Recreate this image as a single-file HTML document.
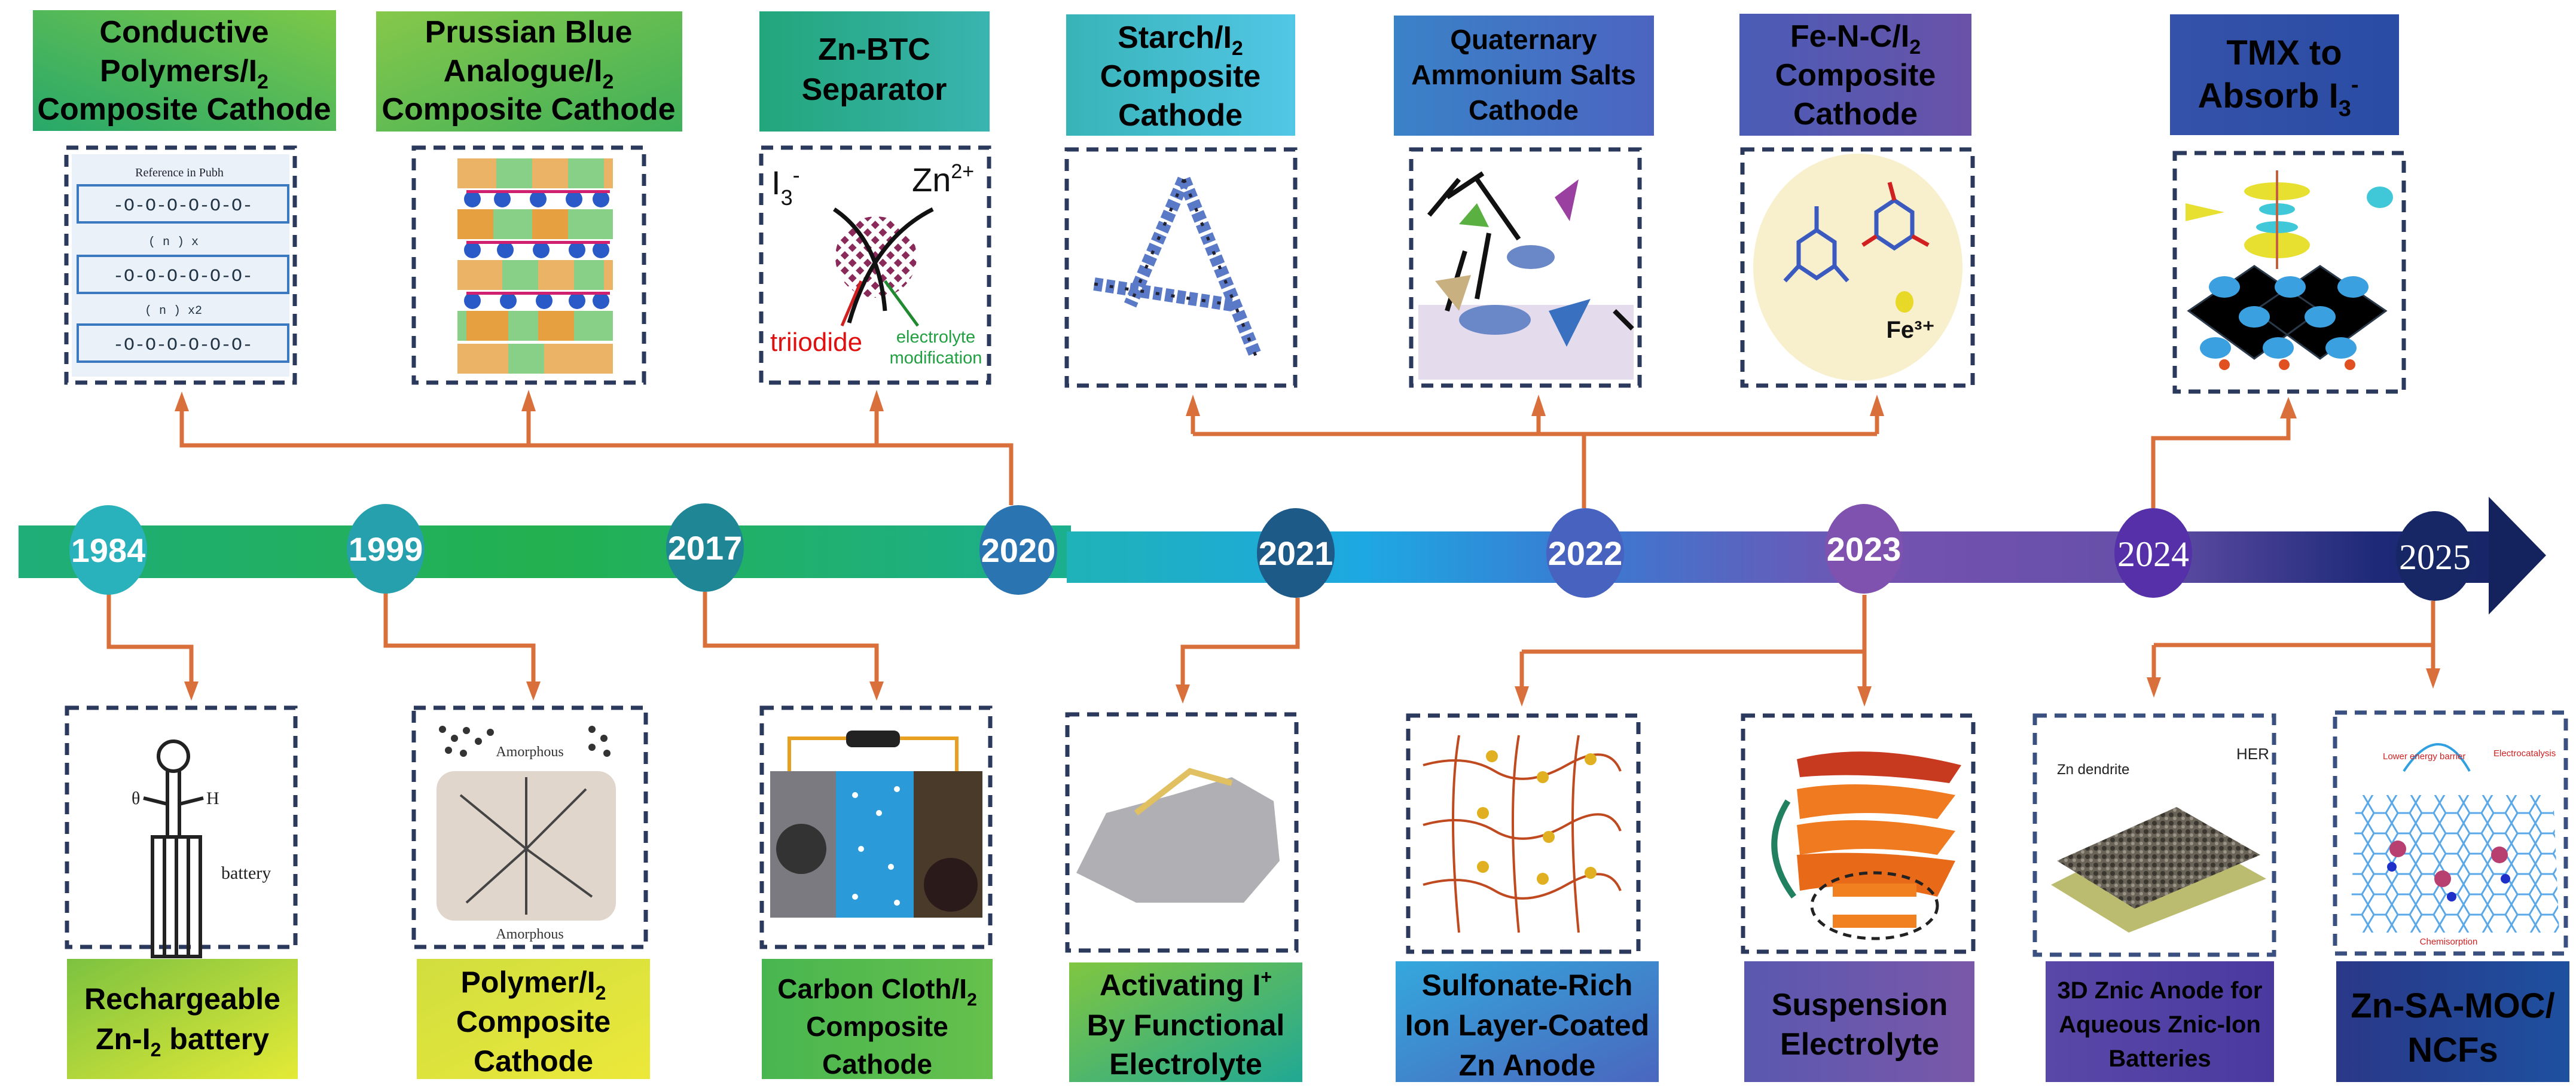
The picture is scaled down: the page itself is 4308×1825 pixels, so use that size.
<!DOCTYPE html>
<html><head><meta charset="utf-8"><style>
html,body{margin:0;padding:0;background:#fff}
svg{display:block}
.t{font-family:"Liberation Sans Narrow","Liberation Sans",sans-serif;font-weight:bold;fill:#000;text-anchor:middle}
.y{font-family:"Liberation Sans Narrow","Liberation Sans",sans-serif;font-weight:bold;fill:#fff;text-anchor:middle;font-size:56px}
.ys{font-family:"Liberation Serif",serif;fill:#fff;text-anchor:middle;font-size:60px}
.c{stroke:#d9703c;stroke-width:7;fill:none}
.a{fill:#d9703c}
.d{fill:#fff;stroke:#2b3a5c;stroke-width:7;stroke-dasharray:20 13}
</style></head><body>
<svg width="4308" height="1825" viewBox="0 0 4308 1825" xmlns="http://www.w3.org/2000/svg">
<defs>
<linearGradient id="b1" x1="0" x2="1"><stop offset="0" stop-color="#1fae78"/><stop offset=".5" stop-color="#23b050"/><stop offset="1" stop-color="#1caf8e"/></linearGradient>
<linearGradient id="b2" x1="1784" x2="4270" gradientUnits="userSpaceOnUse"><stop offset="0" stop-color="#1fb2b8"/><stop offset=".2" stop-color="#1ea8e2"/><stop offset=".35" stop-color="#3a7ad2"/><stop offset=".55" stop-color="#7452b0"/><stop offset=".72" stop-color="#6650a8"/><stop offset=".88" stop-color="#1e2a78"/><stop offset="1" stop-color="#14225e"/></linearGradient>
<linearGradient id="g1" x1="0" x2="1" y1="1" y2="0"><stop offset="0" stop-color="#27a86a"/><stop offset="1" stop-color="#7cc848"/></linearGradient>
<linearGradient id="g2" x1="0" x2="1" y1="0" y2="1"><stop offset="0" stop-color="#86c84a"/><stop offset="1" stop-color="#3fb05a"/></linearGradient>
<linearGradient id="g3" x1="0" x2="1"><stop offset="0" stop-color="#22a67a"/><stop offset="1" stop-color="#3ab4b0"/></linearGradient>
<linearGradient id="g4" x1="0" x2="1"><stop offset="0" stop-color="#38b4b8"/><stop offset="1" stop-color="#52c6e6"/></linearGradient>
<linearGradient id="g5" x1="0" x2="1"><stop offset="0" stop-color="#3a82c8"/><stop offset="1" stop-color="#4c64c0"/></linearGradient>
<linearGradient id="g6" x1="0" x2="1"><stop offset="0" stop-color="#4a5cb6"/><stop offset="1" stop-color="#6a52a8"/></linearGradient>
<linearGradient id="g7" x1="0" x2="1"><stop offset="0" stop-color="#3552aa"/><stop offset="1" stop-color="#2a4ca4"/></linearGradient>
<linearGradient id="h1" x1="0" x2="1" y1="0" y2="1"><stop offset="0" stop-color="#7cc240"/><stop offset="1" stop-color="#e4ea36"/></linearGradient>
<linearGradient id="h2" x1="0" x2="1" y1="0" y2="1"><stop offset="0" stop-color="#d0de3e"/><stop offset="1" stop-color="#ece83a"/></linearGradient>
<linearGradient id="h3" x1="0" x2="1"><stop offset="0" stop-color="#48b650"/><stop offset="1" stop-color="#66c04c"/></linearGradient>
<linearGradient id="h4" x1="0" x2="1" y1="0" y2="1"><stop offset="0" stop-color="#80c640"/><stop offset="1" stop-color="#20a894"/></linearGradient>
<linearGradient id="h5" x1="0" x2="1" y1="0" y2="1"><stop offset="0" stop-color="#34a8dc"/><stop offset="1" stop-color="#4a66be"/></linearGradient>
<linearGradient id="h6" x1="0" x2="1"><stop offset="0" stop-color="#5a58b0"/><stop offset="1" stop-color="#7a58a8"/></linearGradient>
<linearGradient id="h7" x1="0" x2="1"><stop offset="0" stop-color="#5a48a8"/><stop offset="1" stop-color="#4a3aa0"/></linearGradient>
<linearGradient id="h8" x1="0" x2="1"><stop offset="0" stop-color="#2a3888"/><stop offset="1" stop-color="#1e50a0"/></linearGradient>
<pattern id="hex" width="40" height="34" patternUnits="userSpaceOnUse"><path d="M0 17 L10 0 L30 0 L40 17 L30 34 L10 34 Z" fill="none" stroke="#5aa8e8" stroke-width="3"/></pattern>
<pattern id="cross" width="18" height="18" patternUnits="userSpaceOnUse" patternTransform="rotate(45)"><rect width="18" height="18" fill="#fff"/><rect width="10" height="10" fill="#8a2a5a"/></pattern>
<pattern id="grav" width="14" height="14" patternUnits="userSpaceOnUse"><rect width="14" height="14" fill="#6a6458"/><circle cx="5" cy="5" r="4" fill="#3a3630"/><circle cx="11" cy="11" r="3" fill="#9a9488"/></pattern>
</defs>

<!-- TOP TITLE BOXES -->
<rect x="55" y="17" width="507" height="202" fill="url(#g1)"/>
<text class="t" font-size="52"><tspan x="308" y="71">Conductive</tspan><tspan x="308" y="136">Polymers/I<tspan font-size="34" dy="12">2</tspan></tspan><tspan x="308" y="200">Composite Cathode</tspan></text>
<rect x="629" y="19" width="512" height="201" fill="url(#g2)"/>
<text class="t" font-size="52"><tspan x="884" y="71">Prussian Blue</tspan><tspan x="884" y="136">Analogue/I<tspan font-size="34" dy="12">2</tspan></tspan><tspan x="884" y="200">Composite Cathode</tspan></text>
<rect x="1270" y="19" width="385" height="201" fill="url(#g3)"/>
<text class="t" font-size="52"><tspan x="1462" y="100">Zn-BTC</tspan><tspan x="1462" y="167">Separator</tspan></text>
<rect x="1783" y="24" width="383" height="203" fill="url(#g4)"/>
<text class="t" font-size="52"><tspan x="1974" y="80">Starch/I<tspan font-size="34" dy="12">2</tspan></tspan><tspan x="1974" y="145">Composite</tspan><tspan x="1974" y="210">Cathode</tspan></text>
<rect x="2331" y="26" width="435" height="201" fill="url(#g5)"/>
<text class="t" font-size="46"><tspan x="2548" y="82">Quaternary</tspan><tspan x="2548" y="141">Ammonium Salts</tspan><tspan x="2548" y="200">Cathode</tspan></text>
<rect x="2909" y="23" width="388" height="204" fill="url(#g6)"/>
<text class="t" font-size="52"><tspan x="3103" y="78">Fe-N-C/I<tspan font-size="34" dy="12">2</tspan></tspan><tspan x="3103" y="143">Composite</tspan><tspan x="3103" y="208">Cathode</tspan></text>
<rect x="3629" y="24" width="383" height="202" fill="url(#g7)"/>
<text class="t" font-size="58"><tspan x="3820" y="108">TMX to</tspan><tspan x="3810" y="180">Absorb I<tspan font-size="38" dy="14">3</tspan><tspan font-size="38" dy="-40">-</tspan></tspan></text>

<!-- TOP IMAGE BOXES -->
<rect class="d" x="111" y="247" width="382" height="393"/>
<rect x="120" y="258" width="364" height="372" fill="#eaf1f8"/>
<text x="300" y="295" font-size="20" text-anchor="middle" font-family="Liberation Serif" fill="#223">Reference in Pubh</text>
<g fill="none" stroke="#3a78c0" stroke-width="4"><rect x="130" y="310" width="352" height="62"/><rect x="130" y="428" width="352" height="62"/><rect x="130" y="543" width="352" height="62"/></g>
<g font-family="Liberation Mono" font-size="30" fill="#234" text-anchor="middle"><text x="306" y="352">-O-O-O-O-O-O-</text><text x="306" y="470">-O-O-O-O-O-O-</text><text x="306" y="585">-O-O-O-O-O-O-</text><text x="290" y="410" font-size="20">( n ) x</text><text x="290" y="525" font-size="20">( n ) x2</text></g>

<rect class="d" x="692" y="247" width="385" height="393"/>
<g>
<rect x="765" y="265" width="260" height="50" fill="#e6a040" opacity=".8"/><rect x="830" y="265" width="60" height="50" fill="#88d088"/><rect x="950" y="265" width="60" height="50" fill="#88d088"/>
<rect x="765" y="350" width="260" height="50" fill="#88d088"/><rect x="765" y="350" width="60" height="50" fill="#e6a040"/><rect x="890" y="350" width="60" height="50" fill="#e6a040"/>
<rect x="765" y="435" width="260" height="50" fill="#e6a040" opacity=".8"/><rect x="840" y="435" width="60" height="50" fill="#88d088"/><rect x="960" y="435" width="50" height="50" fill="#88d088"/>
<rect x="765" y="520" width="260" height="50" fill="#88d088"/><rect x="780" y="520" width="70" height="50" fill="#e6a040"/><rect x="900" y="520" width="60" height="50" fill="#e6a040"/>
<rect x="765" y="575" width="260" height="50" fill="#e6a040" opacity=".8"/><rect x="850" y="575" width="60" height="50" fill="#88d088"/>
<g fill="#2a5ac8"><circle cx="790" cy="333" r="14"/><circle cx="840" cy="333" r="14"/><circle cx="900" cy="333" r="14"/><circle cx="960" cy="333" r="14"/><circle cx="1005" cy="333" r="14"/><circle cx="790" cy="418" r="14"/><circle cx="845" cy="418" r="14"/><circle cx="905" cy="418" r="14"/><circle cx="965" cy="418" r="14"/><circle cx="1005" cy="418" r="14"/><circle cx="790" cy="503" r="14"/><circle cx="850" cy="503" r="14"/><circle cx="910" cy="503" r="14"/><circle cx="965" cy="503" r="14"/><circle cx="1005" cy="503" r="14"/></g>
<g fill="#d02070"><rect x="780" y="318" width="240" height="5"/><rect x="780" y="403" width="240" height="5"/><rect x="780" y="488" width="240" height="5"/></g>
</g>

<rect class="d" x="1273" y="247" width="381" height="393"/>
<text x="1290" y="325" font-family="Liberation Sans" font-size="56" fill="#111">I<tspan font-size="36" dy="18">3</tspan><tspan font-size="36" dy="-38">-</tspan></text>
<text x="1525" y="320" font-family="Liberation Sans" font-size="56" fill="#111">Zn<tspan font-size="34" dy="-22">2+</tspan></text>
<circle cx="1465" cy="430" r="68" fill="url(#cross)"/>
<path d="M1395 350 Q1470 400 1480 520 M1560 350 Q1460 400 1420 540" stroke="#111" stroke-width="7" fill="none"/>
<path d="M1440 470 L1408 545" stroke="#d02020" stroke-width="5"/><path d="M1480 470 L1535 545" stroke="#208a30" stroke-width="5"/>
<text x="1365" y="587" font-family="Liberation Sans Narrow,Liberation Sans" font-size="44" fill="#e01010" text-anchor="middle">triiodide</text>
<text x="1565" y="573" font-family="Liberation Sans Narrow,Liberation Sans" font-size="29" fill="#20a040" text-anchor="middle">electrolyte</text>
<text x="1565" y="608" font-family="Liberation Sans Narrow,Liberation Sans" font-size="29" fill="#20a040" text-anchor="middle">modification</text>

<rect class="d" x="1784" y="250" width="382" height="395"/>
<path d="M1980 300 L1890 510 M1980 300 L2100 595 M1830 475 L2060 510" stroke="#5a7ac8" stroke-width="22" fill="none" stroke-dasharray="14 6"/>
<path d="M1980 300 L1890 510 M1980 300 L2100 595 M1830 475 L2060 510" stroke="#223" stroke-width="5" fill="none" stroke-dasharray="6 20"/>

<rect class="d" x="2360" y="250" width="382" height="395"/>
<rect x="2372" y="510" width="360" height="125" fill="#e4dcec"/>
<g stroke="#111" stroke-width="8" fill="none"><path d="M2390 360 L2440 300 M2420 330 L2480 290 M2470 300 L2540 400 M2450 420 L2420 520 M2490 390 L2470 500 M2700 520 L2730 550"/></g>
<polygon points="2440,375 2470,340 2490,380" fill="#5ab040"/><polygon points="2600,330 2640,300 2625,370" fill="#9a40a0"/>
<polygon points="2400,470 2460,460 2440,520" fill="#c8b080"/>
<g fill="#6a88c8"><ellipse cx="2500" cy="535" rx="60" ry="25"/><ellipse cx="2560" cy="430" rx="40" ry="20"/></g>
<polygon points="2590,520 2660,500 2620,580" fill="#3a70c0"/>

<rect class="d" x="2914" y="250" width="385" height="395"/>
<ellipse cx="3107" cy="447" rx="175" ry="190" fill="#f8f0cc"/>
<g stroke="#3a5ac0" stroke-width="7" fill="none"><polygon points="3038,385 3068,405 3068,445 3038,465 3008,445 3008,405"/><polygon points="3168,335 3198,355 3198,395 3168,415 3138,395 3138,355"/><path d="M3038 385 L3038 345 M3008 445 L2985 470 M3068 445 L3090 470"/></g>
<path d="M3168 335 L3160 305 M3138 395 L3115 410 M3198 395 L3225 410" stroke="#d02020" stroke-width="7"/>
<ellipse cx="3185" cy="505" rx="15" ry="18" fill="#e8d828"/>
<text x="3195" y="565" font-family="Liberation Sans" font-weight="bold" font-size="40" fill="#111" text-anchor="middle">Fe³⁺</text>

<rect class="d" x="3637" y="256" width="383" height="399"/>
<g fill="#e8e030"><ellipse cx="3808" cy="320" rx="55" ry="15"/><ellipse cx="3808" cy="410" rx="55" ry="22"/><path d="M3655 340 L3720 355 L3655 370 Z"/></g>
<g fill="#40c8d8"><ellipse cx="3808" cy="350" rx="30" ry="10"/><ellipse cx="3808" cy="380" rx="35" ry="10"/><ellipse cx="3980" cy="330" rx="22" ry="18"/></g>
<line x1="3808" y1="285" x2="3808" y2="450" stroke="#c06040" stroke-width="4"/>
<g stroke="#2a3a4a" stroke-width="3"><path d="M3660 520 L3770 445 L3880 520 L3770 600 Z M3770 520 L3880 445 L3990 520 L3880 600 Z"/></g>
<g fill="#3aa0e0"><ellipse cx="3720" cy="480" rx="26" ry="18"/><ellipse cx="3830" cy="480" rx="26" ry="18"/><ellipse cx="3935" cy="480" rx="26" ry="18"/><ellipse cx="3770" cy="530" rx="26" ry="18"/><ellipse cx="3880" cy="530" rx="26" ry="18"/><ellipse cx="3705" cy="582" rx="26" ry="18"/><ellipse cx="3810" cy="582" rx="26" ry="18"/><ellipse cx="3915" cy="582" rx="26" ry="18"/></g>
<g fill="#e05020"><circle cx="3720" cy="610" r="9"/><circle cx="3820" cy="610" r="9"/><circle cx="3930" cy="610" r="9"/></g>

<!-- TOP CONNECTORS -->
<path class="c" d="M1691 845 V745 H304 V680 M884 745 V680 M1466 745 V680"/>
<path class="c" d="M2649 850 V726 M1995 726 H3139 M1995 726 V688 M2573 726 V688 M3139 726 V688"/>
<path class="c" d="M3601 850 V733 H3827 V690"/>
<g class="a"><polygon points="292,688 316,688 304,655"/><polygon points="872,688 896,688 884,652"/><polygon points="1454,688 1478,688 1466,652"/><polygon points="1983,696 2007,696 1995,660"/><polygon points="2561,696 2585,696 2573,660"/><polygon points="3127,696 3151,696 3139,660"/><polygon points="3813,700 3841,700 3827,664"/></g>

<!-- TIMELINE BAR -->
<rect x="31" y="879" width="1760" height="88" fill="url(#b1)"/>
<rect x="1784" y="889" width="2400" height="86" fill="url(#b2)"/>
<polygon points="4162,831 4258,929 4162,1028" fill="#14225e"/>

<!-- BOTTOM CONNECTORS -->
<path class="c" d="M182 990 V1082 H320 V1140 M645 990 V1080 H892 V1140 M1179 990 V1080 H1466 V1140 M2170 1000 V1082 H1978 V1145"/>
<path class="c" d="M3118 995 V1090 M2545 1090 H3118 M2545 1090 V1150 M3118 1090 V1150"/>
<path class="c" d="M4069 1005 V1122 M3602 1079 H4069 M3602 1079 V1135"/>
<g class="a"><polygon points="308,1140 332,1140 320,1172"/><polygon points="880,1140 904,1140 892,1172"/><polygon points="1454,1140 1478,1140 1466,1172"/><polygon points="1966,1145 1990,1145 1978,1177"/><polygon points="2533,1148 2557,1148 2545,1182"/><polygon points="3106,1148 3130,1148 3118,1182"/><polygon points="3590,1133 3614,1133 3602,1167"/><polygon points="4057,1118 4081,1118 4069,1152"/></g>

<!-- CIRCLES -->
<g>
<ellipse cx="181" cy="920" rx="65" ry="75" fill="#2ab2bc"/><text class="y" x="181" y="940">1984</text>
<ellipse cx="645" cy="918" rx="65" ry="75" fill="#27a0ae"/><text class="y" x="645" y="938">1999</text>
<ellipse cx="1179" cy="916" rx="65" ry="74" fill="#1f8696"/><text class="y" x="1179" y="936">2017</text>
<ellipse cx="1703" cy="920" rx="65" ry="75" fill="#2a74b2"/><text class="y" x="1703" y="940">2020</text>
<ellipse cx="2167" cy="925" rx="65" ry="75" fill="#1e5a88"/><text class="y" x="2167" y="945">2021</text>
<ellipse cx="2651" cy="925" rx="65" ry="75" fill="#4862c0"/><text class="y" x="2651" y="945">2022</text>
<ellipse cx="3117" cy="918" rx="65" ry="75" fill="#8052b0"/><text class="y" x="3117" y="938">2023</text>
<ellipse cx="3601" cy="925" rx="65" ry="75" fill="#5530a8"/><text class="ys" x="3601" y="947">2024</text>
<ellipse cx="4072" cy="930" rx="65" ry="75" fill="#172664"/><text class="ys" x="4072" y="952">2025</text>
</g>

<!-- BOTTOM IMAGE BOXES -->
<rect class="d" x="112" y="1184" width="382" height="400"/>
<g stroke="#222" stroke-width="6" fill="none"><circle cx="290" cy="1265" r="25"/><path d="M280 1290 V1400 M300 1290 V1400 M240 1335 L280 1345 M300 1345 L340 1335"/><rect x="255" y="1400" width="80" height="200"/><path d="M275 1400 V1600 M295 1400 V1600 M315 1400 V1600"/></g>
<text x="220" y="1345" font-family="Liberation Serif" font-size="30" fill="#222">θ</text><text x="345" y="1345" font-family="Liberation Serif" font-size="30" fill="#222">H</text>
<text x="370" y="1470" font-family="Liberation Serif" font-size="30" fill="#222">battery</text>

<rect class="d" x="692" y="1184" width="388" height="400"/>
<g fill="#333"><circle cx="740" cy="1220" r="6"/><circle cx="760" cy="1235" r="6"/><circle cx="780" cy="1222" r="6"/><circle cx="800" cy="1240" r="6"/><circle cx="820" cy="1225" r="6"/><circle cx="750" cy="1255" r="6"/><circle cx="775" cy="1260" r="6"/><circle cx="990" cy="1220" r="6"/><circle cx="1010" cy="1235" r="6"/><circle cx="990" cy="1250" r="6"/><circle cx="1015" cy="1260" r="6"/></g>
<text x="886" y="1265" font-family="Liberation Serif" font-size="24" fill="#333" text-anchor="middle">Amorphous</text>
<rect x="730" y="1290" width="300" height="250" rx="30" fill="#e0d6cc"/>
<path d="M770 1330 L880 1420 L990 1500 M980 1320 L880 1420 L780 1510 M880 1300 V1530" stroke="#444" stroke-width="4" fill="none"/>
<text x="886" y="1570" font-family="Liberation Serif" font-size="24" fill="#333" text-anchor="middle">Amorphous</text>

<rect class="d" x="1274" y="1184" width="382" height="400"/>
<path d="M1320 1290 V1235 H1600 V1290" stroke="#e8a020" stroke-width="6" fill="none"/><rect x="1415" y="1222" width="90" height="28" rx="10" fill="#222"/>
<rect x="1288" y="1290" width="110" height="245" fill="#7a7a80"/><circle cx="1340" cy="1420" r="42" fill="#333"/>
<rect x="1398" y="1290" width="130" height="245" fill="#2a9ad8"/>
<g fill="#fff"><circle cx="1430" cy="1330" r="5"/><circle cx="1470" cy="1360" r="5"/><circle cx="1500" cy="1320" r="5"/><circle cx="1440" cy="1420" r="5"/><circle cx="1490" cy="1450" r="5"/><circle cx="1430" cy="1500" r="5"/><circle cx="1500" cy="1510" r="5"/></g>
<rect x="1528" y="1290" width="115" height="245" fill="#4a3a2a"/><circle cx="1590" cy="1480" r="45" fill="#2a1a1a"/>

<rect class="d" x="1785" y="1195" width="383" height="395"/>
<path d="M1800 1460 L1850 1360 L1960 1330 L2060 1300 L2130 1340 L2140 1440 L2080 1510 L1900 1510 Z" fill="#b0b0b4"/>
<path d="M1900 1360 L1990 1290 L2060 1310" stroke="#e0c060" stroke-width="10" fill="none"/>

<rect class="d" x="2355" y="1197" width="385" height="395"/>
<g stroke="#c04a20" stroke-width="4" fill="none"><path d="M2380 1280 Q2450 1260 2500 1290 T2620 1280 T2710 1290 M2380 1380 Q2450 1360 2500 1390 T2620 1380 T2710 1390 M2380 1480 Q2450 1460 2500 1490 T2620 1480 T2710 1490 M2440 1230 Q2420 1350 2440 1560 M2540 1230 Q2520 1350 2540 1560 M2640 1230 Q2620 1350 2640 1560"/></g>
<g fill="#e0b020"><circle cx="2495" cy="1265" r="10"/><circle cx="2580" cy="1300" r="10"/><circle cx="2660" cy="1270" r="10"/><circle cx="2480" cy="1360" r="10"/><circle cx="2590" cy="1400" r="10"/><circle cx="2480" cy="1450" r="10"/><circle cx="2580" cy="1470" r="10"/><circle cx="2660" cy="1460" r="10"/></g>

<rect class="d" x="2915" y="1197" width="385" height="395"/>
<path d="M3005 1270 Q3120 1240 3280 1280 L3260 1310 Q3120 1290 3010 1300 Z" fill="#c83a20"/>
<path d="M3005 1320 Q3120 1300 3270 1330 L3240 1370 Q3120 1350 3010 1370 Z" fill="#f07a20"/>
<path d="M3005 1380 Q3120 1360 3270 1390 L3240 1430 Q3120 1410 3010 1430 Z" fill="#f07a20"/>
<path d="M3005 1430 Q3120 1420 3270 1440 L3240 1500 Q3120 1470 3010 1490 Z" fill="#e86a18"/>
<path d="M2990 1340 Q2940 1420 3000 1500" stroke="#208060" stroke-width="10" fill="none"/>
<ellipse cx="3135" cy="1515" rx="105" ry="55" fill="none" stroke="#222" stroke-width="5" stroke-dasharray="14 10"/>
<rect x="3065" y="1478" width="140" height="22" fill="#f08020"/><rect x="3065" y="1530" width="140" height="22" fill="#f08020"/>

<rect class="d" x="3403" y="1197" width="400" height="400" style="stroke:#3a5080"/>
<polygon points="3430,1480 3560,1560 3790,1470 3630,1380" fill="#bcbc70"/>
<polygon points="3440,1440 3570,1520 3780,1430 3640,1350" fill="url(#grav)"/>
<text x="3440" y="1295" font-family="Liberation Sans Narrow,Liberation Sans" font-size="24" fill="#222">Zn dendrite</text>
<text x="3740" y="1270" font-family="Liberation Sans" font-size="26" fill="#222">HER</text>

<rect class="d" x="3905" y="1192" width="386" height="403" style="stroke:#3a5080"/>
<polygon points="3940,1330 4270,1330 4280,1560 3930,1560" fill="url(#hex)"/>
<path d="M4020 1290 Q4080 1200 4130 1290" stroke="#30a0e0" stroke-width="4" fill="none"/>
<g fill="#b84070"><circle cx="4010" cy="1420" r="14"/><circle cx="4085" cy="1470" r="14"/><circle cx="4180" cy="1430" r="14"/></g>
<g fill="#1e30c8"><circle cx="4000" cy="1450" r="8"/><circle cx="4100" cy="1500" r="8"/><circle cx="4190" cy="1470" r="8"/></g>
<text x="3985" y="1270" font-family="Liberation Sans Narrow,Liberation Sans" font-size="15" fill="#d02020">Lower energy barrier</text>
<text x="4170" y="1265" font-family="Liberation Sans Narrow,Liberation Sans" font-size="15" fill="#d02020">Electrocatalysis</text>
<text x="4095" y="1580" font-family="Liberation Sans Narrow,Liberation Sans" font-size="15" fill="#d02020" text-anchor="middle">Chemisorption</text>

<!-- BOTTOM LABEL BOXES -->
<rect x="112" y="1604" width="386" height="201" fill="url(#h1)"/>
<text class="t" font-size="50"><tspan x="305" y="1688">Rechargeable</tspan><tspan x="305" y="1755">Zn-I<tspan font-size="32" dy="12">2</tspan><tspan dy="-12"> battery</tspan></tspan></text>
<rect x="697" y="1604" width="390" height="201" fill="url(#h2)"/>
<text class="t" font-size="50"><tspan x="892" y="1660">Polymer/I<tspan font-size="32" dy="12">2</tspan></tspan><tspan x="892" y="1726">Composite</tspan><tspan x="892" y="1792">Cathode</tspan></text>
<rect x="1274" y="1604" width="386" height="201" fill="url(#h3)"/>
<text class="t" font-size="46"><tspan x="1467" y="1670">Carbon Cloth/I<tspan font-size="30" dy="12">2</tspan></tspan><tspan x="1467" y="1733">Composite</tspan><tspan x="1467" y="1796">Cathode</tspan></text>
<rect x="1788" y="1610" width="390" height="200" fill="url(#h4)"/>
<text class="t" font-size="50"><tspan x="1983" y="1665">Activating I<tspan font-size="32" dy="-20">+</tspan></tspan><tspan x="1983" y="1732">By Functional</tspan><tspan x="1983" y="1797">Electrolyte</tspan></text>
<rect x="2334" y="1608" width="440" height="202" fill="url(#h5)"/>
<text class="t" font-size="50"><tspan x="2554" y="1665">Sulfonate-Rich</tspan><tspan x="2554" y="1732">Ion Layer-Coated</tspan><tspan x="2554" y="1799">Zn Anode</tspan></text>
<rect x="2917" y="1608" width="385" height="202" fill="url(#h6)"/>
<text class="t" font-size="52"><tspan x="3110" y="1698">Suspension</tspan><tspan x="3110" y="1764">Electrolyte</tspan></text>
<rect x="3421" y="1608" width="382" height="202" fill="url(#h7)"/>
<text class="t" font-size="40"><tspan x="3612" y="1670">3D Znic Anode for</tspan><tspan x="3612" y="1727">Aqueous Znic-Ion</tspan><tspan x="3612" y="1784">Batteries</tspan></text>
<rect x="3907" y="1608" width="390" height="202" fill="url(#h8)"/>
<text class="t" font-size="58"><tspan x="4102" y="1702">Zn-SA-MOC/</tspan><tspan x="4102" y="1776">NCFs</tspan></text>
</svg>
</body></html>
